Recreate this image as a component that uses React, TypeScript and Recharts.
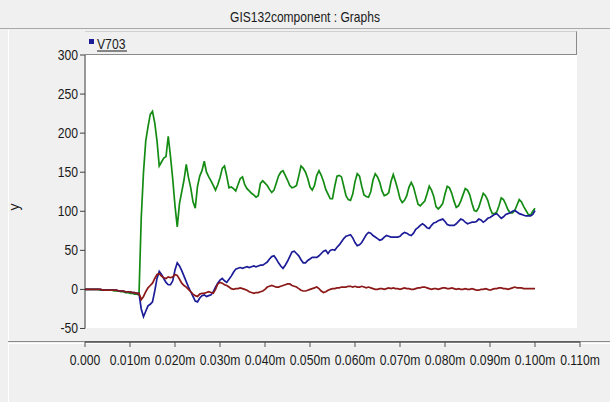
import { LineChart, Line, XAxis, YAxis, ReferenceLine } from 'recharts'

// sampling grid in ms (0.5 ms steps, 0 .. 100 ms)
const timeMs = Array.from({ length: 201 }, (_, i) => i * 0.5)

const greenTrace = [
  0, 0, 0, 0, 0, 0, 0, -1, -1, -1, -1, -1, -1, -2, -2, -2, -3, -3, -4, -4,
  -5, -5, -6, -6, -7, 92, 150, 190, 208, 224, 228, 213, 190, 158, 163, 168, 170, 196, 170, 141,
  107, 80, 110, 125, 140, 160, 143, 130, 112, 104, 132, 145, 152, 164, 150, 144, 139, 133, 127, 134,
  143, 155, 158, 145, 130, 131, 129, 126, 134, 142, 144, 134, 129, 126, 123, 121, 118, 120, 136, 139,
  136, 133, 128, 124, 127, 136, 145, 150, 152, 146, 140, 133, 130, 131, 133, 145, 158, 155, 150, 142,
  131, 127, 133, 146, 152, 146, 138, 128, 122, 116, 116, 132, 145, 146, 144, 132, 120, 115, 114, 122,
  138, 148, 145, 132, 121, 119, 118, 125, 140, 148, 144, 137, 126, 120, 121, 124, 138, 147, 138, 128,
  116, 111, 114, 120, 131, 137, 131, 120, 109, 107, 110, 113, 122, 132, 127, 119, 106, 103, 106, 110,
  122, 132, 130, 123, 113, 105, 107, 113, 121, 129, 127, 121, 110, 101, 100, 105, 114, 123, 120, 114,
  104, 97, 97, 99, 107, 117, 115, 109, 102, 98, 98, 101, 108, 115, 112, 106, 101, 96, 95, 100,
  104,
]

const v703 = [
  0, 0, 0, 0, 0, 0, 0, 0, -1, -1, -1, -1, -1, -1, -1, -2, -2, -2, -3, -3,
  -3, -4, -4, -5, -5, -25, -35, -28, -21, -19, -16, -2, 14, 23, 19, 14, 9, 6, 6, 11,
  25, 34, 30, 24, 17, 10, 3, -3, -9, -15, -16, -11, -8, -7, -9, -8, -7, -3, 3, 8,
  12, 14, 11, 9, 13, 17, 22, 26, 27, 28, 27, 28, 29, 28, 29, 30, 29, 30, 31, 31,
  33, 35, 39, 42, 43, 39, 34, 30, 27, 31, 36, 42, 48, 49, 46, 43, 38, 34, 34, 37,
  39, 41, 41, 41, 43, 46, 49, 50, 46, 50, 51, 50, 54, 57, 61, 65, 68, 69, 70, 66,
  60, 56, 57, 60, 65, 70, 73, 72, 69, 67, 65, 63, 64, 67, 69, 68, 67, 67, 67, 67,
  68, 71, 73, 72, 70, 69, 72, 77, 79, 82, 84, 82, 79, 78, 82, 85, 86, 88, 89, 90,
  87, 83, 82, 82, 82, 84, 87, 90, 89, 86, 84, 85, 86, 86, 87, 90, 89, 86, 88, 91,
  92, 94, 96, 97, 94, 91, 93, 96, 97, 98, 100, 101, 99, 97, 96, 95, 94, 94, 94, 96,
  101,
]

const redTrace = [
  0, 0, 0, 0, 0, 0, 0, 0, -1, -1, -1, -1, -1, -1, -1, -2, -2, -2, -3, -3,
  -3, -4, -4, -5, -5, -13, -9, -3, 2, 5, 8, 14, 19, 20, 17, 15, 14, 16, 15, 16,
  19, 18, 13, 8, 5, 3, 0, -3, -6, -8, -9, -6, -5, -5, -4, -3, -4, -5, 0, 7,
  9, 8, 6, 5, 3, 1, 0, 1, 1, 2, 1, 0, -1, -3, -4, -5, -4, -4, -3, -2,
  0, 3, 4, 5, 4, 3, 3, 4, 5, 6, 7, 7, 5, 4, 3, 1, -1, -2, -2, -1,
  0, 1, 2, 3, 1, -2, -4, -3, -1, 0, 1, 1, 2, 2, 3, 3, 3, 4, 4, 3,
  4, 3, 3, 4, 3, 2, 3, 2, 1, 0, 0, 1, 1, 0, 1, 2, 1, 2, 1, 1,
  0, 1, 2, 1, 1, 0, 0, 1, 2, 2, 3, 3, 2, 1, 0, 1, 1, 0, 1, 2,
  2, 1, 1, 2, 1, 0, 1, 0, 0, 1, 0, 0, 1, 0, -1, -1, 0, 0, 1, 0,
  -1, 0, 1, 1, 2, 2, 1, 1, 0, 1, 2, 3, 2, 2, 2, 1, 1, 1, 1, 1,
  1,
]

const yTicks = [-50, 0, 50, 100, 150, 200, 250, 300]
const xTicks = [0, 10, 20, 30, 40, 50, 60, 70, 80, 90, 100, 110]
const xTickLabels = ['0.000', '0.010m', '0.020m', '0.030m', '0.040m', '0.050m', '0.060m', '0.070m', '0.080m', '0.090m', '0.100m', '0.110m']
const title = 'GIS132component : Graphs'
const legendLabel = 'V703'

const data = timeMs.map((t, i) => ({ t, g: greenTrace[i], v: v703[i], r: redTrace[i] }))

const FONT = '"Liberation Sans", Arial, sans-serif'
const NARROW = 'scale(0.87,1)'
const GREEN = '#148c14'
const NAVY = '#1c1c98'
const MAROON = '#8c1818'

function XTick(props: any) {
  const { x, y, payload } = props
  const label = xTickLabels[xTicks.indexOf(payload.value)]
  return (
    <g transform={`translate(${x},${y})`}>
      <text transform={NARROW} y={16} textAnchor="middle" fontSize={14} fontFamily={FONT} fill="#1a1a1a">
        {label}
      </text>
    </g>
  )
}

function YTick(props: any) {
  const { x, y, payload } = props
  return (
    <g transform={`translate(${x},${y})`}>
      <text transform={NARROW} y={5} textAnchor="end" fontSize={14} fontFamily={FONT} fill="#1a1a1a">
        {payload.value}
      </text>
    </g>
  )
}

export default function App() {
  return (
    <div style={{ position: 'absolute', left: 0, top: 0, width: 610, height: 402, background: '#f0f0f0', overflow: 'hidden' }}>
      {/* window chrome behind the chart */}
      <svg width={610} height={402} style={{ position: 'absolute', left: 0, top: 0 }}>
        <rect x={86} y={55} width={491} height={273} fill="#ffffff" />
        <line x1={0} y1={28.5} x2={610} y2={28.5} stroke="#a8a8a8" />
        <line x1={8.5} y1={30} x2={8.5} y2={402} stroke="#ffffff" />
        <line x1={8} y1={341.5} x2={610} y2={341.5} stroke="#8a8a8a" />
        <line x1={9} y1={343.5} x2={610} y2={343.5} stroke="#ffffff" />
        <g transform="translate(305,22)">
          <text transform="scale(0.86,1)" textAnchor="middle" fontSize={14} fontFamily={FONT} fill="#1a1a1a">{title}</text>
        </g>
        {/* legend strip */}
        <line x1={85} y1={31.5} x2={577} y2={31.5} stroke="#d0d0d0" />
        <line x1={576.5} y1={31.5} x2={576.5} y2={55} stroke="#8a8a8a" />
        <line x1={85} y1={54.5} x2={577} y2={54.5} stroke="#8a8a8a" />
        <rect x={89} y={39} width={5} height={5} fill={NAVY} />
        <g transform="translate(97,48.5)">
          <text transform={NARROW} fontSize={14} fontFamily={FONT} fill="#1a1a1a">{legendLabel}</text>
        </g>
        <line x1={97} y1={51} x2={127} y2={51} stroke="#1a1a1a" />
        <g transform="translate(19,207) rotate(-90)">
          <text textAnchor="middle" fontSize={14} fontFamily={FONT} fill="#1a1a1a">y</text>
        </g>
      </svg>
      <LineChart
        width={610}
        height={402}
        data={data}
        margin={{ top: 55, right: 30, bottom: 30, left: 40 }}
        style={{ position: 'absolute', left: 0, top: 0 }}
      >
        <XAxis
          dataKey="t"
          type="number"
          domain={[0, 110]}
          ticks={xTicks}
          interval={0}
          height={30}
          tickSize={5}
          tick={<XTick />}
          tickLine={{ stroke: '#505050' }}
          axisLine={{ stroke: '#505050', strokeWidth: 1.5 }}
        />
        <YAxis
          type="number"
          domain={[-67.3, 300]}
          allowDataOverflow
          ticks={yTicks}
          interval={0}
          width={45}
          tickSize={5}
          tick={<YTick />}
          tickLine={{ stroke: '#404040' }}
          axisLine={false}
        />
        <ReferenceLine segment={[{ x: 0, y: -50 }, { x: 0, y: 300 }]} stroke="#404040" ifOverflow="visible" />
        <Line dataKey="g" type="linear" stroke={GREEN} strokeWidth={1.7} dot={false} isAnimationActive={false} />
        <Line dataKey="v" name={legendLabel} type="linear" stroke={NAVY} strokeWidth={1.7} dot={false} isAnimationActive={false} />
        <Line dataKey="r" type="linear" stroke={MAROON} strokeWidth={1.7} dot={false} isAnimationActive={false} />
      </LineChart>
    </div>
  )
}
